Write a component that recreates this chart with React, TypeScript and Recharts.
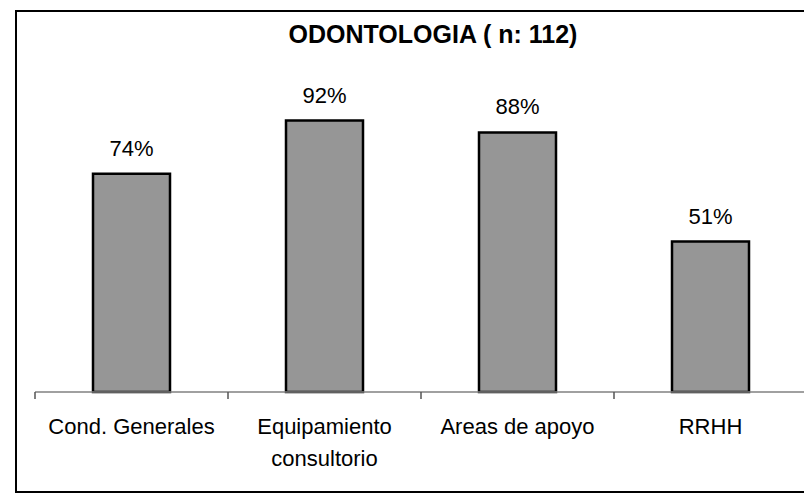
import React from 'react';
import { BarChart, Bar, XAxis, YAxis, LabelList } from 'recharts';

const categories = ['Cond. Generales', 'Equipamiento consultorio', 'Areas de apoyo', 'RRHH'];
const values = [74, 92, 88, 51];
const title = 'ODONTOLOGIA ( n: 112)';

const data = categories.map((name, i) => ({ name, value: values[i] }));

const FONT = '"Liberation Sans", Arial, Helvetica, sans-serif';
const TICK_FONT_SIZE = 22;

let measureCtx: CanvasRenderingContext2D | null = null;
function measure(text: string): number {
  if (!measureCtx && typeof document !== 'undefined') {
    measureCtx = document.createElement('canvas').getContext('2d');
  }
  if (!measureCtx) return text.length * TICK_FONT_SIZE * 0.55;
  measureCtx.font = `${TICK_FONT_SIZE}px ${FONT}`;
  return measureCtx.measureText(text).width;
}

function wrap(text: string, maxWidth: number): string[] {
  const words = String(text).split(' ');
  const lines: string[] = [];
  let cur = '';
  words.forEach((w) => {
    const next = cur ? `${cur} ${w}` : w;
    if (cur && measure(next) > maxWidth) {
      lines.push(cur);
      cur = w;
    } else {
      cur = next;
    }
  });
  if (cur) lines.push(cur);
  return lines;
}

function CategoryTick(props: any) {
  const { x, y, payload, index, visibleTicksCount } = props;
  const half = payload && payload.offset ? payload.offset : 0;
  const isLast = index === (visibleTicksCount ?? 4) - 1;
  const lines = wrap(payload.value, half * 2 - 12);
  return (
    <g>
      <line x1={x - half} x2={x - half} y1={y} y2={y + 7} stroke="#555" strokeWidth={1.5} />
      {isLast && (
        <line x1={x + half} x2={x + half} y1={y} y2={y + 7} stroke="#555" strokeWidth={1.5} />
      )}
      <text
        x={x}
        y={y + 42}
        textAnchor="middle"
        fill="#000"
        fontSize={TICK_FONT_SIZE}
        fontFamily={FONT}
      >
        {lines.map((l, i) => (
          <tspan key={i} x={x} dy={i === 0 ? 0 : 32}>
            {l}
          </tspan>
        ))}
      </text>
    </g>
  );
}

export default function App() {
  return (
    <div style={{ position: 'relative', width: 804, height: 486, overflow: 'hidden', fontFamily: FONT }}>
      <div
        style={{
          position: 'absolute',
          left: 7,
          top: 2,
          width: 1000,
          height: 483,
          boxSizing: 'border-box',
          border: '2px solid #000',
        }}
      />
      <div
        style={{
          position: 'absolute',
          left: 0,
          width: 850,
          top: 12,
          textAlign: 'center',
          fontWeight: 'bold',
          fontSize: 25,
          lineHeight: '29px',
          color: '#000',
        }}
      >
        {title}
      </div>
      <div style={{ position: 'absolute', left: 0, top: 0 }}>
        <BarChart
          width={804}
          height={486}
          data={data}
          margin={{ top: 89, right: 5, bottom: 42, left: 27 }}
        >
          <YAxis hide domain={[0, 100]} />
          <XAxis
            dataKey="name"
            height={60}
            tickSize={0}
            tickMargin={0}
            tickLine={false}
            axisLine={{ stroke: '#808080', strokeWidth: 1.5 }}
            interval={0}
            tick={<CategoryTick />}
          />
          <Bar
            dataKey="value"
            fill="#969696"
            stroke="#000"
            strokeWidth={2.5}
            barSize={77}
            isAnimationActive={false}
          >
            <LabelList
              dataKey="value"
              position="top"
              offset={18}
              formatter={(v: any) => `${v}%`}
              fill="#000"
              style={{ fontSize: 22, fontFamily: FONT }}
            />
          </Bar>
        </BarChart>
      </div>
    </div>
  );
}
